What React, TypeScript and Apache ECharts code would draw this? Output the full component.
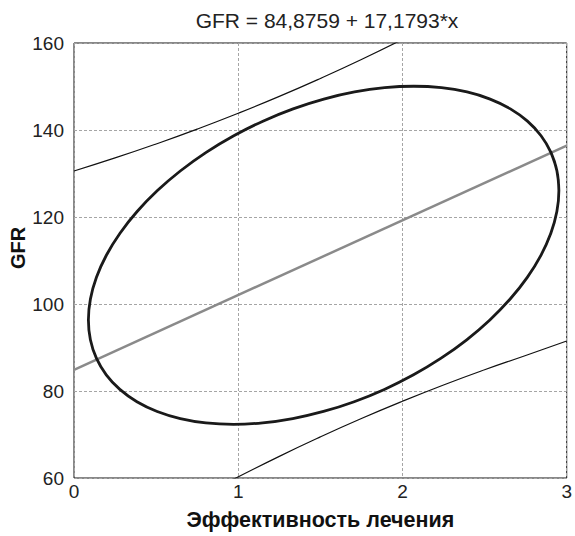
import React, { useEffect, useRef } from "react";
import * as echarts from "echarts";

const titleText = "GFR = 84,8759 + 17,1793*x";
const xName = "Эффективность лечения";
const yName = "GFR";

const interceptB0 = 84.8759;
const slopeB1 = 17.1793;
const regressionX = [0, 3];

const upperBand: [number, number][] = [
  [0, 130.58], [0.25, 133.58], [0.5, 136.79], [0.75, 140.2], [1.0, 143.84],
  [1.25, 147.72], [1.5, 151.85], [1.75, 156.21], [2.0, 160.82],
];

const lowerBand: [number, number][] = [
  [0.95, 59.3], [1.25, 64.98], [1.5, 69.45], [1.75, 73.67], [2.0, 77.64],
  [2.25, 81.38], [2.5, 84.88], [2.75, 88.17], [3.0, 91.5],
];

// points read along the concentration ellipse (closed, with overlap for smoothing)
const ellipsePts: [number, number][] = [
  [2.9038, 134.857], [2.9402, 130.629], [2.9523, 126.071], [2.94, 121.256],
  [2.9033, 116.27], [2.8429, 111.197], [2.7599, 106.125], [2.6557, 101.139],
  [2.5321, 96.326], [2.3911, 91.766], [2.2352, 87.54], [2.0672, 83.718],
  [1.8897, 80.366], [1.7059, 77.542], [1.519, 75.294], [1.332, 73.66],
  [1.1483, 72.668], [0.9709, 72.337], [0.8029, 72.669], [0.6472, 73.661],
  [0.5065, 75.296], [0.383, 77.544], [0.2791, 80.369], [0.1963, 83.721],
  [0.1362, 87.543], [0.0998, 91.771], [0.0877, 96.329], [0.1, 101.144],
  [0.1367, 106.13], [0.1971, 111.203], [0.2801, 116.275], [0.3843, 121.261],
  [0.5079, 126.074], [0.6489, 130.634], [0.8048, 134.86], [0.9728, 138.682],
  [1.1503, 142.034], [1.3341, 144.858], [1.521, 147.106], [1.708, 148.74],
  [1.8917, 149.732], [2.0691, 150.063], [2.2371, 149.731], [2.3928, 148.739],
  [2.5335, 147.104], [2.657, 144.856], [2.7609, 142.031], [2.8437, 138.679],
  [2.9038, 134.857], [2.9402, 130.629], [2.9523, 126.071],
];

const xTicks = { min: 0, max: 3, interval: 1 };
const yTicks = { min: 60, max: 160, interval: 20 };

const FONT = "'Liberation Sans', Arial, sans-serif";

export default function App() {
  const ref = useRef<HTMLDivElement>(null);

  useEffect(() => {
    if (!ref.current) return;
    const chart = echarts.init(ref.current, undefined, { renderer: "svg" });
    const regression = regressionX.map((x) => [x, interceptB0 + slopeB1 * x]);
    chart.setOption({
      animation: false,
      backgroundColor: "#ffffff",
      title: {
        text: titleText,
        left: 322,
        textAlign: "center",
        top: 5,
        textStyle: { fontFamily: FONT, fontSize: 21, fontWeight: "normal", color: "#222" },
      },
      grid: {
        left: 74,
        right: 4,
        top: 43,
        bottom: 55,
        show: true,
        borderColor: "#111",
        borderWidth: 1,
        backgroundColor: "transparent",
      },
      xAxis: {
        type: "value",
        min: xTicks.min,
        max: xTicks.max,
        interval: xTicks.interval,
        name: xName,
        nameLocation: "middle",
        nameGap: 31,
        nameTextStyle: { fontFamily: FONT, fontSize: 21.5, fontWeight: "bold", color: "#111" },
        axisLine: { show: false },
        axisTick: { show: false },
        axisLabel: { fontFamily: FONT, fontSize: 19, color: "#222", margin: 4 },
        splitLine: { show: true, lineStyle: { color: "#a5a5a5", type: [3, 2], width: 1 } },
      },
      yAxis: {
        type: "value",
        min: yTicks.min,
        max: yTicks.max,
        interval: yTicks.interval,
        axisLine: { show: false },
        axisTick: { show: false },
        axisLabel: { fontFamily: FONT, fontSize: 19, color: "#222", margin: 10 },
        splitLine: { show: true, lineStyle: { color: "#a5a5a5", type: [3, 2], width: 1 } },
      },
      graphic: [
        {
          type: "text",
          x: 18,
          y: 248,
          rotation: Math.PI / 2,
          style: {
            text: yName,
            font: `bold 20px ${FONT}`,
            fill: "#111",
            align: "center",
            verticalAlign: "middle",
          },
        },
      ],
      series: [
        {
          type: "line",
          data: upperBand,
          smooth: true,
          showSymbol: false,
          lineStyle: { color: "#111", width: 1.2 },
        },
        {
          type: "line",
          data: lowerBand,
          smooth: true,
          showSymbol: false,
          lineStyle: { color: "#111", width: 1.2 },
        },
        {
          type: "line",
          data: regression,
          showSymbol: false,
          lineStyle: { color: "#8a8a8a", width: 2.5 },
        },
        {
          type: "line",
          data: ellipsePts,
          smooth: 0.4,
          smoothMonotone: "none",
          showSymbol: false,
          lineStyle: { color: "#1a1a1a", width: 2.8 },
        },
      ],
    });
    return () => chart.dispose();
  }, []);

  return (
    <div
      ref={ref}
      style={{ position: "fixed", left: 0, top: 0, width: 575, height: 536 }}
    />
  );
}
